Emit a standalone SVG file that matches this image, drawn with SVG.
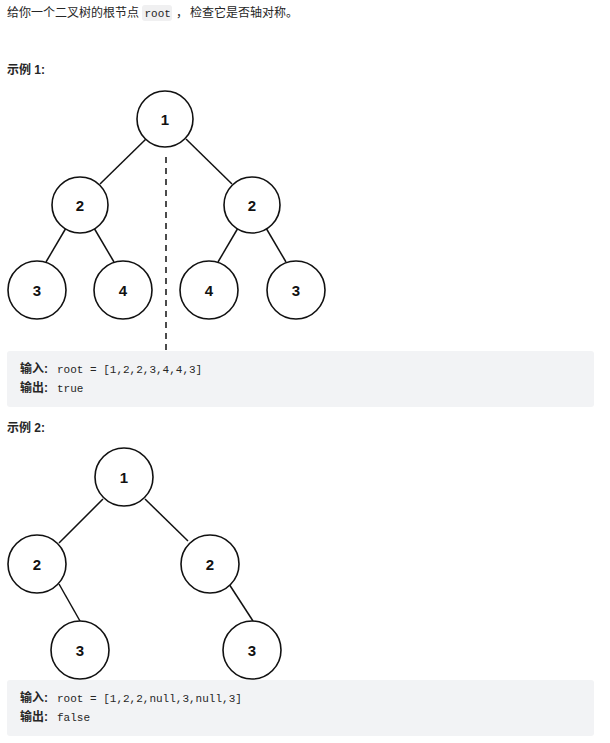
<svg xmlns="http://www.w3.org/2000/svg" width="610" height="743" viewBox="0 0 610 743">
<style>
.t{font-family:"Liberation Sans","Noto Sans CJK SC",sans-serif;font-size:12px;fill:#262626}
.b{font-family:"Liberation Sans","Noto Sans CJK SC",sans-serif;font-size:12px;font-weight:bold;fill:#262626}
.m{font-family:"Liberation Mono","DejaVu Sans Mono",monospace;font-size:11px;fill:#262626}
.n circle{fill:#fff;stroke:#111;stroke-width:1.6}
.n text{font-family:"Liberation Sans",Arial,sans-serif;font-size:15px;font-weight:bold;fill:#111;text-anchor:middle}
.e line{stroke:#111;stroke-width:1.5}
</style>
<rect width="610" height="743" fill="#fff"/>
<text class="t" x="7" y="17">给你一个二叉树的根节点</text>
<rect x="142" y="5" width="30" height="16" rx="3" fill="#f0f0f1"/>
<text class="m" x="144.5" y="17">root</text>
<text class="t" x="176" y="17">，</text>
<text class="t" x="190" y="17">检查它是否轴对称。</text>
<text class="b" x="7" y="74">示例 1:</text>
<g class="e" id="edges1">
<line x1="146" y1="139" x2="100" y2="184"/>
<line x1="186" y1="139" x2="232" y2="184"/>
<line x1="66" y1="228" x2="46" y2="262"/>
<line x1="94" y1="228" x2="114" y2="262"/>
<line x1="238" y1="228" x2="218" y2="262"/>
<line x1="266" y1="228" x2="286" y2="262"/>
<line x1="166" y1="157" x2="166" y2="350" stroke-dasharray="6,5" stroke-width="2.5"/>
</g>
<g class="n" id="n1"><circle cx="165" cy="119" r="28"/><text x="165" y="124.5">1</text></g>
<g class="n" id="n2"><circle cx="80" cy="205" r="28"/><text x="80" y="210.5">2</text></g>
<g class="n" id="n3"><circle cx="252" cy="205" r="28"/><text x="252" y="210.5">2</text></g>
<g class="n" id="n4"><circle cx="37" cy="290" r="29"/><text x="37" y="295.5">3</text></g>
<g class="n" id="n5"><circle cx="123" cy="290" r="29"/><text x="123" y="295.5">4</text></g>
<g class="n" id="n6"><circle cx="209" cy="290" r="29"/><text x="209" y="295.5">4</text></g>
<g class="n" id="n7"><circle cx="296" cy="290" r="29"/><text x="296" y="295.5">3</text></g>
<rect x="7" y="351" width="587" height="56" rx="3" fill="#f2f3f5"/>
<text class="b" x="20" y="373">输入:</text><text class="m" x="57" y="373">root = [1,2,2,3,4,4,3]</text>
<text class="b" x="20" y="392">输出:</text><text class="m" x="57" y="392">true</text>
<text class="b" x="7" y="432">示例 2:</text>
<g class="e" id="edges2">
<line x1="103" y1="499" x2="59" y2="543"/>
<line x1="145" y1="499" x2="188" y2="541"/>
<line x1="59" y1="584" x2="80" y2="621"/>
<line x1="229" y1="584" x2="253" y2="621"/>
</g>
<g class="n" id="m1"><circle cx="124" cy="477" r="29"/><text x="124" y="482.5">1</text></g>
<g class="n" id="m2"><circle cx="37" cy="564" r="29"/><text x="37" y="569.5">2</text></g>
<g class="n" id="m3"><circle cx="210" cy="564" r="29"/><text x="210" y="569.5">2</text></g>
<g class="n" id="m4"><circle cx="80" cy="650" r="29"/><text x="80" y="655.5">3</text></g>
<g class="n" id="m5"><circle cx="252" cy="650" r="29"/><text x="252" y="655.5">3</text></g>
<rect x="7" y="680" width="587" height="56" rx="3" fill="#f2f3f5"/>
<text class="b" x="20" y="702">输入:</text><text class="m" x="57" y="702">root = [1,2,2,null,3,null,3]</text>
<text class="b" x="20" y="721">输出:</text><text class="m" x="57" y="721">false</text>
</svg>
